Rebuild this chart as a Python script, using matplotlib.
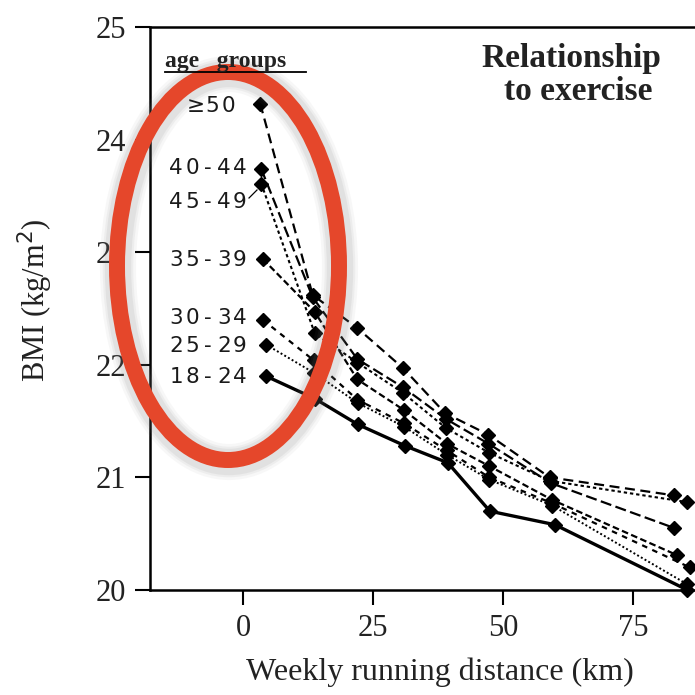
import matplotlib
matplotlib.use("Agg")
import matplotlib.pyplot as plt
from matplotlib.patches import Ellipse
from matplotlib.lines import Line2D

# ---------------- data ----------------
groups = ["\u226550", "40-44", "45-49", "35-39", "30-34", "25-29", "18-24"]

x_ge50 = [3.3, 13.4, 21.9, 30.8, 38.9, 47.2, 59.0, 83.0]
y_ge50 = [24.32, 22.62, 22.33, 21.97, 21.57, 21.38, 21.00, 20.84]

x_40_44 = [3.5, 13.4, 22.0, 30.8, 39.0, 47.2, 59.2, 83.0]
y_40_44 = [23.74, 22.60, 22.05, 21.80, 21.52, 21.30, 20.95, 20.55]

x_45_49 = [3.5, 13.8, 22.0, 30.8, 39.0, 47.3, 59.0, 85.5]
y_45_49 = [23.61, 22.28, 22.02, 21.75, 21.44, 21.22, 20.97, 20.78]

x_35_39 = [3.8, 13.8, 22.0, 30.9, 39.2, 47.4, 59.5, 83.5]
y_35_39 = [22.94, 22.47, 21.87, 21.60, 21.30, 21.10, 20.80, 20.31]

x_30_34 = [3.8, 13.6, 22.0, 31.0, 39.2, 47.4, 59.5, 86.0]
y_30_34 = [22.40, 22.04, 21.69, 21.48, 21.24, 21.00, 20.77, 20.20]

x_25_29 = [4.4, 13.6, 22.1, 31.0, 39.3, 47.4, 59.5, 85.5]
y_25_29 = [22.18, 21.93, 21.66, 21.45, 21.20, 20.98, 20.75, 20.05]

x_18_24 = [4.4, 13.8, 22.1, 31.2, 39.4, 47.5, 60.0, 85.5]
y_18_24 = [21.90, 21.70, 21.47, 21.28, 21.13, 20.70, 20.58, 20.00]

series_x = [x_ge50, x_40_44, x_45_49, x_35_39, x_30_34, x_25_29, x_18_24]
series_y = [y_ge50, y_40_44, y_45_49, y_35_39, y_30_34, y_25_29, y_18_24]

x_ticks = [0, 25, 50, 75]
y_ticks = [20, 21, 22, 23, 24, 25]

# ---------------- styles ----------------
dashes = [(4.5, 2.5), (5, 2), (1.6, 1.4), (3, 1.5), (2.5, 2.5), (1.0, 1.2), None]
widths = [1.6, 1.6, 1.5, 1.6, 1.6, 1.4, 2.4]

W = H = 695.0
def fx(px):
    return px / W
def fy(py):
    return 1 - py / H

fig = plt.figure(figsize=(6.95, 6.95), dpi=100)
fig.patch.set_facecolor("white")

left, right, top, bottom = 150, 730, 27, 590
ax = fig.add_axes([fx(left), fy(bottom), (right - left) / W, (bottom - top) / H])
ax.set_xlim(-17.9, 93.7)
ax.set_ylim(20, 25)

for xs, ys, d, lw in zip(series_x, series_y, dashes, widths):
    line, = ax.plot(xs, ys, color="black", lw=lw, marker="D", markersize=7.5,
                    markerfacecolor="black", markeredgecolor="black", clip_on=False)
    if d is not None:
        line.set_dashes(d)

serif = "Liberation Serif"
ax.set_xticks(x_ticks)
ax.set_yticks(y_ticks)
ax.tick_params(axis="both", direction="out", length=11, width=1.5, colors="black",
               labelsize=22, pad=6)
for lab in ax.get_xticklabels() + ax.get_yticklabels():
    lab.set_fontfamily(serif)
    lab.set_color("#222222")
for s in ["left", "bottom", "top"]:
    ax.spines[s].set_linewidth(1.8)
ax.spines["right"].set_visible(False)

ax.set_xlabel("Weekly running distance (km)", fontfamily=serif, fontsize=23,
              labelpad=11, color="#222222")
fig.text(fx(35), fy(300), "BMI (kg/m$^2$)", rotation=90, ha="center", va="center",
         fontfamily=serif, fontsize=22, color="#222222")

# title text
fig.text(fx(571), fy(58), "Relationship", ha="center", va="center",
         fontfamily=serif, fontsize=24, fontweight="bold", color="#222222")
fig.text(fx(578), fy(92), "to exercise", ha="center", va="center",
         fontfamily=serif, fontsize=24, fontweight="bold", color="#222222")

# age groups heading (underlined)
fig.text(fx(165), fy(61), "age   groups", ha="left", va="center",
         fontfamily=serif, fontsize=17, fontweight="bold", color="#222222")
fig.add_artist(Line2D([fx(165), fx(306)], [fy(72), fy(72)], color="black", lw=1.3))

# group labels with wide letter spacing
label_pos = {
    "\u226550": (236, 106),
    "40-44": (248, 168),
    "45-49": (248, 202),
    "35-39": (248, 260),
    "30-34": (248, 318),
    "25-29": (248, 346),
    "18-24": (248, 377),
}
pitch = 16
for g in groups:
    rx, cy = label_pos[g]
    n = len(g)
    for i, ch in enumerate(g):
        cx = rx - pitch * (n - i) + pitch / 2
        fig.text(fx(cx), fy(cy), ch, ha="center", va="center",
                 fontfamily="DejaVu Sans", fontsize=15.5, color="#1a1a1a")
# leader line for 45-49
fig.add_artist(Line2D([fx(249), fx(257)], [fy(198), fy(190)], color="black", lw=0.9))

# red annotation ellipse with soft shadow
cx, cy = 228, 266
ew, eh = 222, 388
for lw, a in [(26, 0.06), (22, 0.08), (19, 0.10)]:
    fig.add_artist(Ellipse((fx(cx + 1), fy(cy + 2)), ew / W, eh / H,
                           transform=fig.transFigure, fill=False,
                           edgecolor="gray", lw=lw, alpha=a))
fig.add_artist(Ellipse((fx(cx), fy(cy)), ew / W, eh / H,
                       transform=fig.transFigure, fill=False,
                       edgecolor="#E5472B", lw=11.5))

fig.savefig("out.png", dpi=100, facecolor="white")
